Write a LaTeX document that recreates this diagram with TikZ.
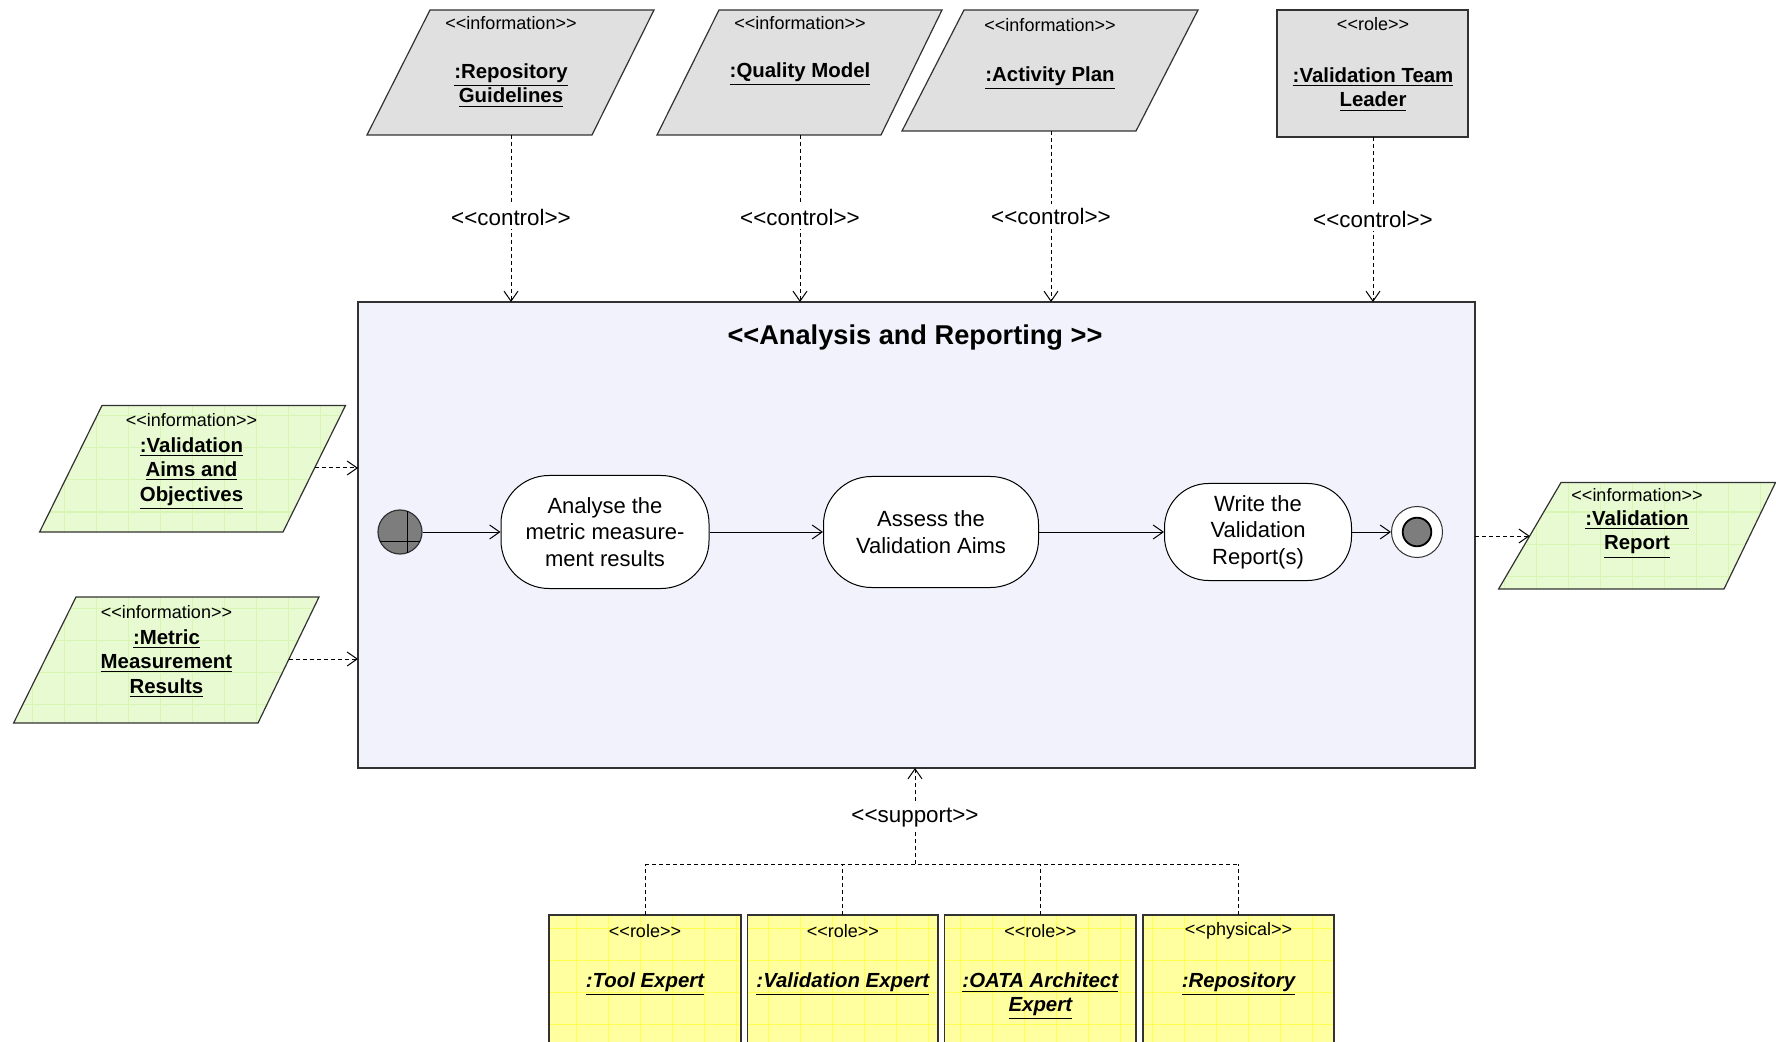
\documentclass[tikz,border=0pt]{standalone}
\usepackage{fontspec}
\setmainfont{Liberation Sans}
\usetikzlibrary{arrows.meta}

\definecolor{mainfill}{RGB}{242,242,252}
\definecolor{grayfill}{RGB}{224,224,224}
\definecolor{greenfill}{RGB}{232,250,210}
\definecolor{greengrid}{RGB}{216,245,180}
\definecolor{yellowfill}{RGB}{255,255,160}
\definecolor{yellowgrid}{RGB}{255,255,80}
\definecolor{edge}{RGB}{50,50,50}
\definecolor{startgray}{RGB}{125,125,125}

% guillemet-free stereotype brackets
\newcommand{\stereoL}{<\kern0pt<}
\newcommand{\stereoR}{>\kern0pt>}

% filled shape with a faint square grid and an outline
\newcommand{\gridshape}[3]{%
  \fill[#1] #3;
  \begin{scope}
    \clip #3;
    \foreach \gx in {0,32,...,1792} \draw[#2, line width=0.5pt] (\gx,0) -- (\gx,1100);
    \foreach \gy in {0,32,...,1088} \draw[#2, line width=0.5pt] (0,\gy) -- (1800,\gy);
  \end{scope}
  \draw[boxline] #3;
}

\tikzset{
  boxline/.style={draw=edge, line width=0.6pt},
  stereo/.style={font=\fontsize{9}{11}\selectfont, inner sep=0pt},
  objname/.style={font=\fontsize{10.2}{12.2}\selectfont\bfseries, align=center, inner sep=0pt},
  resname/.style={font=\fontsize{10.2}{11.8}\selectfont\bfseries\itshape, align=center, inner sep=0pt},
  ctl/.style={font=\fontsize{11.2}{13}\selectfont, fill=white, inner sep=2pt},
  action/.style={draw=black, line width=0.5pt, fill=white, rounded corners=24pt,
    align=center, font=\fontsize{11}{13.3}\selectfont, inner sep=0pt},
  flow/.style={line width=0.5pt, -{Straight Barb[length=5pt,width=7pt]}},
  dep/.style={line width=0.5pt, dash pattern=on 2pt off 1.5pt, -{Straight Barb[length=5pt,width=7pt]}},
  depline/.style={line width=0.5pt, dash pattern=on 2pt off 1.5pt},
}

\begin{document}
\begin{tikzpicture}[x=0.5pt, y=-0.5pt]
\useasboundingbox (0,0) rectangle (1776,1042);
\clip (0,0) rectangle (1776,1042);

% ---------- main activity frame ----------
\node[draw=edge, line width=0.7pt, fill=mainfill, minimum width=558.5pt, minimum height=233pt,
      inner sep=0pt, outer sep=0pt] (main) at (916.5,535) {};
\node[font=\fontsize{13.6}{16}\selectfont\bfseries] (title) at (915,337.5)
      {\stereoL Analysis and Reporting \stereoR};

% ---------- control inputs (top) ----------
\fill[grayfill] (430,10) -- (654,10) -- (592,135) -- (367,135) -- cycle;
\draw[boxline] (430,10) -- (654,10) -- (592,135) -- (367,135) -- cycle;
\fill[grayfill] (719,10) -- (942,10) -- (881,135) -- (657,135) -- cycle;
\draw[boxline] (719,10) -- (942,10) -- (881,135) -- (657,135) -- cycle;
\fill[grayfill] (964,10) -- (1198,10) -- (1136,131) -- (902,131) -- cycle;
\draw[boxline] (964,10) -- (1198,10) -- (1136,131) -- (902,131) -- cycle;
\filldraw[fill=grayfill, boxline] (1277,10) rectangle (1468,137);

\node[stereo] (s1) at (511,23) {\stereoL information\stereoR};
\node[objname] (n1) at (511,85.5) {\underline{:Repository}\\\underline{Guidelines}};
\node[stereo] (s2) at (800,23) {\stereoL information\stereoR};
\node[objname] (n2) at (800,74.5) {\underline{:Quality Model}};
\node[stereo] (s3) at (1050,25) {\stereoL information\stereoR};
\node[objname] (n3) at (1050,78.5) {\underline{:Activity Plan}};
\node[stereo] (s4) at (1373,24) {\stereoL role\stereoR};
\node[objname] (n4) at (1373,89.5) {\underline{:Validation Team}\\\underline{Leader}};

\coordinate (p1b) at (511,135);
\coordinate (p2b) at (800,135);
\coordinate (p3b) at (1051,131);
\coordinate (p4b) at (1373,137);
\draw[dep] (p1b) -- (p1b |- main.north);
\draw[dep] (p2b) -- (p2b |- main.north);
\draw[dep] (p3b) -- (p3b |- main.north);
\draw[dep] (p4b) -- (p4b |- main.north);
\node[ctl] (c1) at (511,217) {\stereoL control\stereoR};
\node[ctl] (c2) at (800,217) {\stereoL control\stereoR};
\node[ctl] (c3) at (1051,216) {\stereoL control\stereoR};
\node[ctl] (c4) at (1373,219) {\stereoL control\stereoR};

% ---------- inputs (left) ----------
\gridshape{greenfill}{greengrid}{(102,405.5) -- (345.5,405.5) -- (283,532) -- (39.6,532) -- cycle}
\node[stereo] (s5) at (191.5,420) {\stereoL information\stereoR};
\node[objname] (n5) at (191.5,473.5) {\underline{:Validation}\\\underline{Aims and}\\\underline{Objectives}};
\gridshape{greenfill}{greengrid}{(76,597) -- (319,597) -- (258,723) -- (13.6,723) -- cycle}
\node[stereo] (s6) at (166.5,612) {\stereoL information\stereoR};
\node[objname] (n6) at (166.5,663.5) {\underline{:Metric}\\\underline{Measurement}\\\underline{Results}};
\coordinate (g1out) at (314.6,468);
\coordinate (g2out) at (289,659);
\draw[dep] (g1out) -- (g1out -| main.west);
\draw[dep] (g2out) -- (g2out -| main.west);

% ---------- output (right) ----------
\gridshape{greenfill}{greengrid}{(1561,482.5) -- (1775.5,482.5) -- (1724,589) -- (1498.6,589) -- cycle}
\node[stereo] (s7) at (1637,495) {\stereoL information\stereoR};
\node[objname] (n7) at (1637,534.5) {\underline{:Validation}\\\underline{Report}};
\coordinate (g3in) at (1529.7,536);
\draw[dep] (g3in -| main.east) -- (g3in);

% ---------- activity flow ----------
\node[circle, draw=edge, line width=0.6pt, fill=startgray, minimum size=22pt, inner sep=0pt] (start) at (400,532) {};
\draw[black, line width=0.4pt] (407,511) -- (407,553);
\draw[black, line width=0.4pt] (380,541) -- (420,541);
\node[action, minimum width=104pt, minimum height=56.5pt] (a1) at (605,532)
  {Analyse the\\metric measure-\\ment results};
\node[action, minimum width=107.5pt, minimum height=55.5pt] (a2) at (931,532)
  {Assess the\\Validation Aims};
\node[action, rounded corners=22pt, minimum width=93.5pt, minimum height=48.5pt] (a3) at (1258,532)
  {Write the\\Validation\\Report(s)};
\node[circle, draw=edge, line width=0.5pt, fill=white, minimum size=25.5pt, inner sep=0pt] (final) at (1417,532) {};
\node[circle, draw=black, line width=0.9pt, fill=startgray, minimum size=14.3pt, inner sep=0pt] (finaldot) at (final) {};
\draw[flow] (start) -- (a1);
\draw[flow] (a1) -- (a2);
\draw[flow] (a2) -- (a3);
\draw[flow] (a3) -- (final);

% ---------- support resources (bottom) ----------
\gridshape{yellowfill}{yellowgrid}{(549,915) rectangle (741,1070)}
\gridshape{yellowfill}{yellowgrid}{(747.6,915) rectangle (938,1070)}
\gridshape{yellowfill}{yellowgrid}{(944.7,915) rectangle (1136,1070)}
\gridshape{yellowfill}{yellowgrid}{(1143,915) rectangle (1334,1070)}
\coordinate (r1) at (645,915);
\coordinate (r2) at (842.8,915);
\coordinate (r3) at (1040.3,915);
\coordinate (r4) at (1238.5,915);
\node[stereo] (s8) at (645,931) {\stereoL role\stereoR};
\node[resname] (n8) at (645,984.5) {\underline{:Tool Expert}};
\node[stereo] (s9) at (842.8,931) {\stereoL role\stereoR};
\node[resname] (n9) at (842.8,984.5) {\underline{:Validation Expert}};
\node[stereo] (s10) at (1040.3,931) {\stereoL role\stereoR};
\node[resname] (n10) at (1040.3,996.5) {\underline{:OATA Architect}\\\underline{Expert}};
\node[stereo] (s11) at (1238.5,931) {\stereoL physical\stereoR};
\node[resname] (n11) at (1238.5,984.5) {\underline{:Repository}};

% dashed bus gathering the resources
\coordinate (hub) at (915,864);
\draw[depline] (r1 |- hub) -- (r4 |- hub);
\draw[depline] (r1) -- (r1 |- hub);
\draw[depline] (r2) -- (r2 |- hub);
\draw[depline] (r3) -- (r3 |- hub);
\draw[depline] (r4) -- (r4 |- hub);
\draw[dep] (hub) -- (hub |- main.south);
\node[ctl] (sup) at (915,818) {\stereoL support\stereoR};

\end{tikzpicture}
\end{document}
